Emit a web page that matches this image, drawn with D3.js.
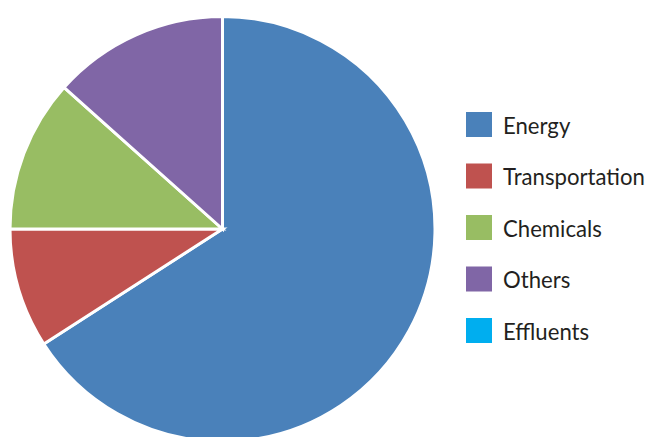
<!DOCTYPE html>
<html>
<head>
<meta charset="utf-8">
<script src="https://cdn.jsdelivr.net/npm/d3@7"></script>
<style>
  html, body { margin: 0; padding: 0; background: #fff; }
  svg { display: block; }
</style>
</head>
<body>
<svg id="chart" width="647" height="437"></svg>
<script>
// Emission sources (share, %)
const categories = ["Energy", "Transportation", "Chemicals", "Others", "Effluents"];
const shares = [65.9, 9.1, 11.6, 13.4, 0];
const colors = ["#4A81BA", "#BF524F", "#98BD63", "#8066A6", "#00AEEF"];

const svg = d3.select("#chart");
const cx = 222.5, cy = 229, radius = 212.5;

const data = categories.map((c, i) => ({ name: c, value: shares[i], color: colors[i] }));

const pie = d3.pie().sort(null).value(d => d.value);
const arc = d3.arc().innerRadius(0).outerRadius(radius);

svg.append("g")
  .attr("transform", `translate(${cx},${cy})`)
  .selectAll("path")
  .data(pie(data).filter(d => d.data.value > 0))
  .join("path")
  .attr("d", arc)
  .attr("fill", d => d.data.color)
  .attr("stroke", "#fff")
  .attr("stroke-width", 3)
  .attr("stroke-linejoin", "miter");

// Legend
const legendY = d3.scalePoint().domain(categories).range([124.5, 330.5]);
const legend = svg.append("g").selectAll("g")
  .data(data)
  .join("g")
  .attr("transform", d => `translate(466,${legendY(d.name)})`);

legend.append("rect")
  .attr("x", 0).attr("y", -12.5)
  .attr("width", 26).attr("height", 25)
  .attr("fill", d => d.color);

const labels = legend.append("g")
  .attr("transform", "translate(37,9)")
  .append("text")
  .attr("font-family", "Lato, 'Open Sans', sans-serif")
  .attr("font-size", 23)
  .attr("fill", "#231f20")
  .text(d => d.name);

// Condensed face: compress labels uniformly so the longest fits the right margin
const longest = d3.max(labels.nodes(), n => n.getComputedTextLength());
const sx = Math.min(1, 142 / longest);
labels.attr("transform", `scale(${sx},1)`);
</script>
</body>
</html>
